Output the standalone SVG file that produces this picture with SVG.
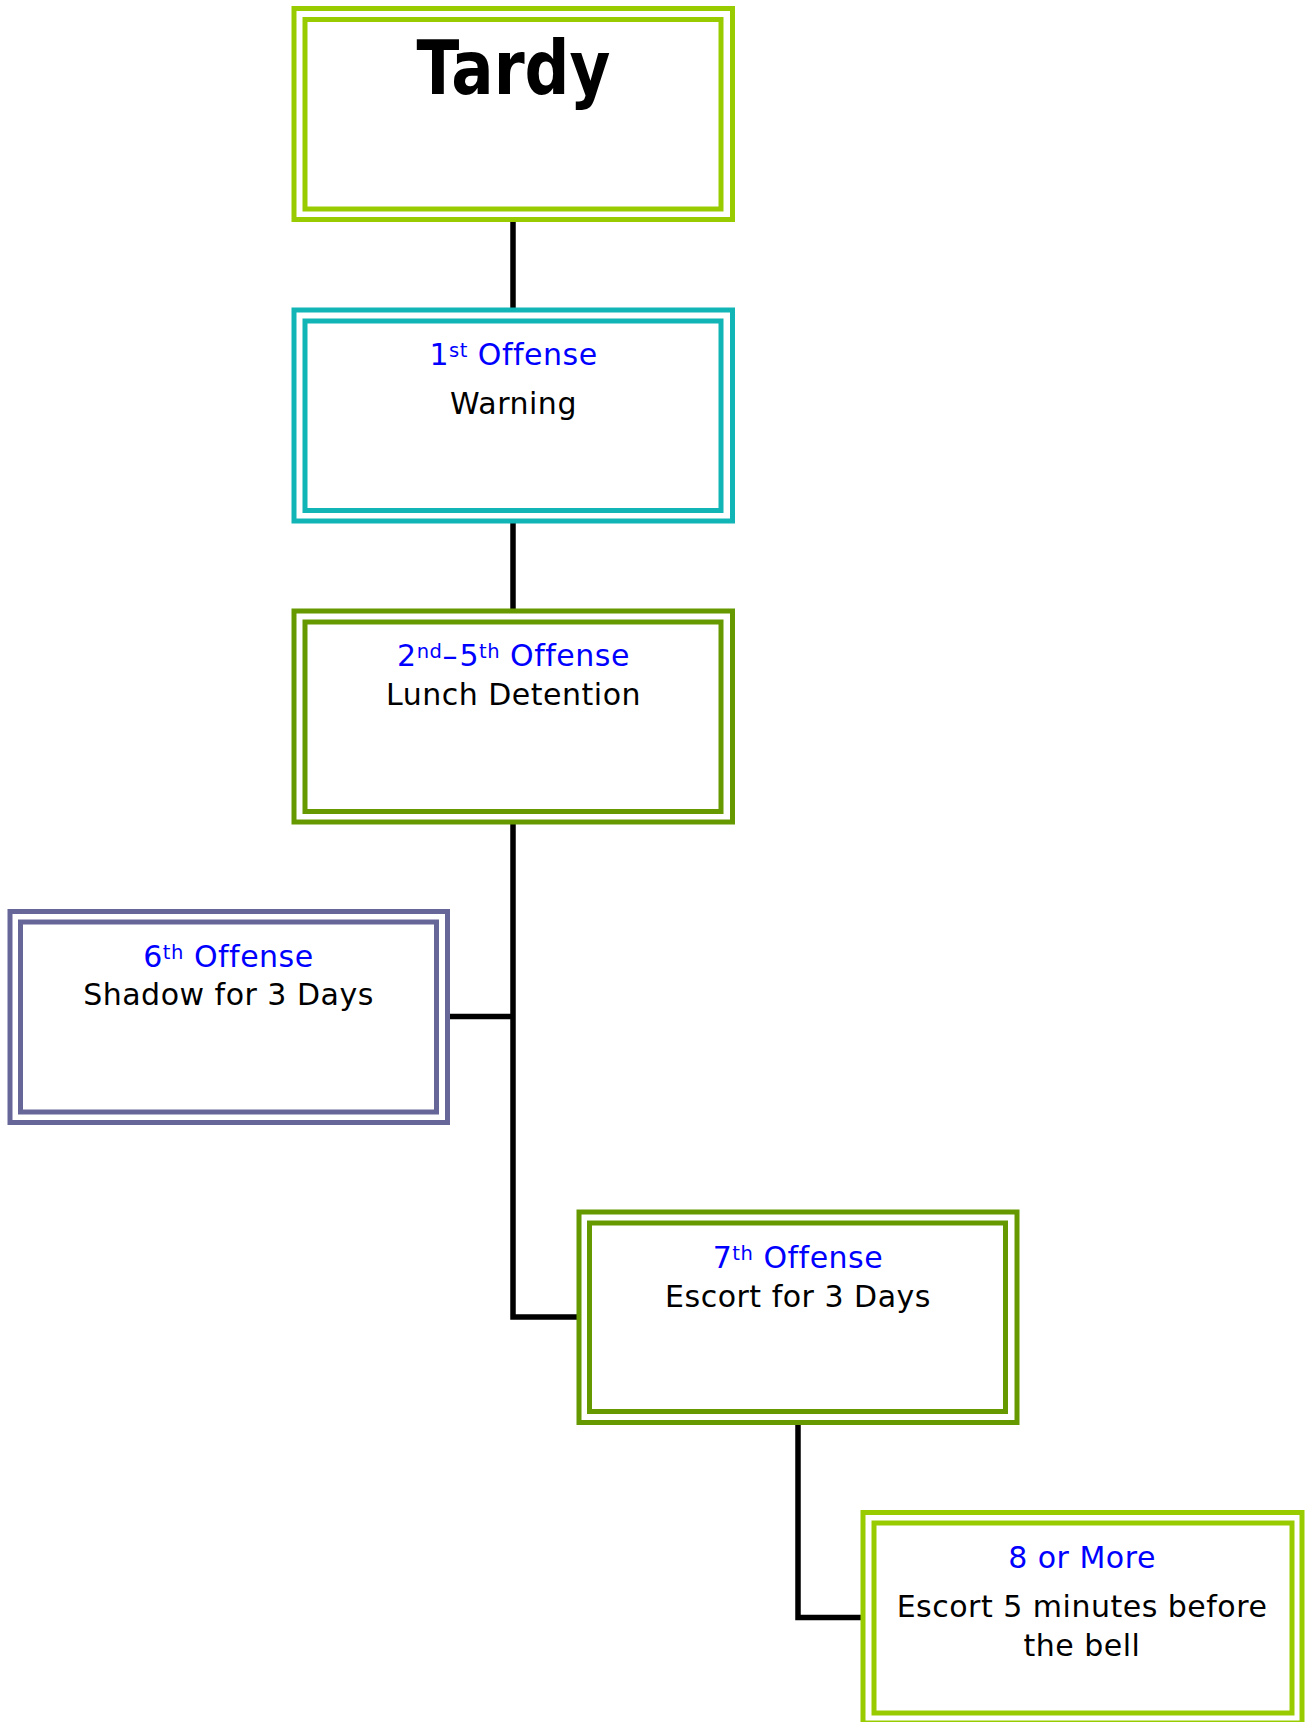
<svg xmlns="http://www.w3.org/2000/svg" width="1307" height="1722" viewBox="0 0 1307 1722">
  <style>
    .frame { fill: none; stroke-width: 5; }
    .lime { stroke: #99CC00; }
    .teal { stroke: #12B5B5; }
    .olive { stroke: #669900; }
    .slate { stroke: #666699; }
    .head { font-family: "DejaVu Sans", "Liberation Sans", sans-serif; font-size: 30px; letter-spacing: 0.5px; fill: #0000FF; text-anchor: middle; }
    .body { font-family: "DejaVu Sans", "Liberation Sans", sans-serif; font-size: 30px; letter-spacing: 0.5px; fill: #000000; text-anchor: middle; }
    .sup { font-size: 19.5px; }
    .dash { letter-spacing: 2px; }
    .title { font-family: "DejaVu Sans", "Liberation Sans", sans-serif; font-size: 75px; font-weight: bold; fill: #000000; text-anchor: middle; }
    .wire { fill: none; stroke: #000000; stroke-width: 5.5; }
  </style>
  <rect width="1307" height="1722" fill="#FFFFFF"/>

  <!-- connectors -->
  <g id="connectors">
    <path class="wire" d="M513,221 V309"/>
    <path class="wire" d="M513,522 V610"/>
    <path class="wire" d="M513,823 V1317 H577"/>
    <path class="wire" d="M450,1016.5 H513"/>
    <path class="wire" d="M798,1424 V1617.5 H861"/>
  </g>

  <!-- Tardy -->
  <g id="tardy">
    <rect class="frame lime" x="294" y="8.5" width="438.5" height="211"/>
    <rect class="frame lime" x="305" y="19.5" width="416" height="189.5"/>
    <text class="title" x="513.5" y="94.3" textLength="194" lengthAdjust="spacingAndGlyphs">Tardy</text>
  </g>

  <!-- 1st offense -->
  <g id="offense-1">
    <rect class="frame teal" x="294" y="310" width="438.5" height="211"/>
    <rect class="frame teal" x="305" y="321" width="416" height="189.5"/>
    <text class="head" x="513.5" y="365">1<tspan class="sup" dy="-8">st</tspan><tspan dy="8"> Offense</tspan></text>
    <text class="body" x="513.5" y="414.3">Warning</text>
  </g>

  <!-- 2nd to 5th offense -->
  <g id="offense-2-5">
    <rect class="frame olive" x="294" y="611" width="438.5" height="211"/>
    <rect class="frame olive" x="305" y="622" width="416" height="189.5"/>
    <text class="head" x="513.5" y="665.6">2<tspan class="sup" dy="-8">nd</tspan><tspan class="dash" dy="8">–</tspan><tspan>5</tspan><tspan class="sup" dy="-8">th</tspan><tspan dy="8"> Offense</tspan></text>
    <text class="body" x="513.5" y="705">Lunch Detention</text>
  </g>

  <!-- 6th offense -->
  <g id="offense-6">
    <rect class="frame slate" x="10" y="911.5" width="437.5" height="211"/>
    <rect class="frame slate" x="20.5" y="922" width="416" height="190"/>
    <text class="head" x="228.5" y="966.6">6<tspan class="sup" dy="-8">th</tspan><tspan dy="8"> Offense</tspan></text>
    <text class="body" x="228.5" y="1005">Shadow for 3 Days</text>
  </g>

  <!-- 7th offense -->
  <g id="offense-7">
    <rect class="frame olive" x="579" y="1212" width="438" height="210.5"/>
    <rect class="frame olive" x="589.5" y="1223" width="416" height="188.5"/>
    <text class="head" x="798" y="1267.6">7<tspan class="sup" dy="-8">th</tspan><tspan dy="8"> Offense</tspan></text>
    <text class="body" x="798" y="1306.6">Escort for 3 Days</text>
  </g>

  <!-- 8 or more -->
  <g id="offense-8-plus">
    <rect class="frame lime" x="863" y="1512.5" width="439" height="210.5"/>
    <rect class="frame lime" x="874" y="1523" width="418" height="190"/>
    <text class="head" x="1082" y="1568.3">8 or More</text>
    <text class="body" x="1082" y="1616.7">Escort 5 minutes before</text>
    <text class="body" x="1082" y="1656">the bell</text>
  </g>
</svg>
